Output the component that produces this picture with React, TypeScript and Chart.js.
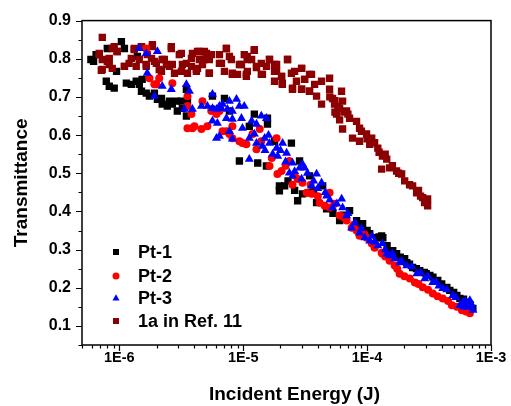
import React, { useEffect, useRef } from 'react';
import { Chart, registerables } from 'chart.js';

Chart.register(...registerables);

const FONT = '"Liberation Sans", Arial, Helvetica, sans-serif';

// Axis settings
const xMin = 5e-7;
const xMax = 1e-3;
const yMin = 0.05;
const yMax = 0.9;
const xTickValues = [1e-6, 1e-5, 1e-4, 1e-3];
const xTickLabels = ['1E-6', '1E-5', '1E-4', '1E-3'];
const yTickValues = [0.1, 0.2, 0.3, 0.4, 0.5, 0.6, 0.7, 0.8, 0.9];
const yMinorTicks = [0.05, 0.15, 0.25, 0.35, 0.45, 0.55, 0.65, 0.75, 0.85];
const xTitle = 'Incident Energy (J)';
const yTitle = 'Transmittance';

const seriesNames = ['Pt-1', 'Pt-2', 'Pt-3', '1a in Ref. 11'];
const seriesColors = ['#000000', '#ff0000', '#0000ff', '#8b0000'];

// Pt-1 (black squares): [energy (J), transmittance]
const pt1: [number, number][] = [
  [6.2e-7, 0.793], [6.5e-7, 0.811], [5.9e-7, 0.798], [8.0e-7, 0.827], [1.04e-6, 0.845], [1.10e-6, 0.827],
  [9.5e-7, 0.767], [7.85e-7, 0.741], [8.3e-7, 0.728], [9.1e-7, 0.723], [1.14e-6, 0.736], [1.25e-6, 0.733],
  [1.37e-6, 0.741], [1.45e-6, 0.733], [1.53e-6, 0.746], [1.51e-6, 0.715], [1.65e-6, 0.710], [1.75e-6, 0.702],
  [1.92e-6, 0.710], [2.03e-6, 0.694], [2.19e-6, 0.696], [2.22e-6, 0.681], [2.44e-6, 0.676], [2.54e-6, 0.689],
  [2.68e-6, 0.681], [2.89e-6, 0.689], [2.94e-6, 0.663], [3.17e-6, 0.689], [3.23e-6, 0.670], [3.48e-6, 0.650],
  [3.55e-6, 0.689], [3.48e-6, 0.720], [1.40e-6, 0.806], [5.54e-6, 0.668], [7.06e-6, 0.696], [9.32e-6, 0.532],
  [1.31e-5, 0.527], [1.23e-5, 0.655], [5.65e-6, 0.702], [1.57e-5, 0.644], [1.57e-5, 0.629], [2.45e-5, 0.579],
  [1.54e-5, 0.519], [1.96e-5, 0.467], [2.16e-5, 0.467], [1.96e-5, 0.454], [2.75e-5, 0.428], [3.01e-5, 0.446],
  [3.43e-5, 0.449], [3.91e-5, 0.423], [4.38e-5, 0.467], [4.71e-5, 0.407], [6.0e-5, 0.376], [7.22e-5, 0.402],
  [8.22e-5, 0.376], [9.2e-5, 0.368], [1.05e-4, 0.342], [1.20e-4, 0.331], [1.34e-4, 0.331], [1.52e-4, 0.297],
  [1.73e-4, 0.289], [2.01e-4, 0.276], [1.31e-4, 0.336], [1.61e-4, 0.297], [2.09e-4, 0.266], [2.33e-4, 0.253],
  [3.21e-4, 0.232], [3.72e-4, 0.219], [4.40e-4, 0.201], [5.30e-4, 0.180], [6.38e-4, 0.162], [7.14e-4, 0.146],
  [2.66e-4, 0.245], [2.9e-4, 0.240], [4.65e-4, 0.193], [5.61e-4, 0.172], [7.74e-6, 0.663], [1.12e-5, 0.623],
  [1.79e-5, 0.584], [2.85e-5, 0.532], [3.43e-5, 0.493],
  [3.7e-5, 0.455], [5.3e-5, 0.395], [6.5e-5, 0.390], [8.5e-5, 0.365], [1.0e-4, 0.350], [1.25e-4, 0.333],
  [1.45e-4, 0.310], [1.85e-4, 0.280], [2.2e-4, 0.262], [2.5e-4, 0.250], [3.0e-4, 0.237], [3.4e-4, 0.228],
  [4.0e-4, 0.210], [5.0e-4, 0.188], [6.0e-4, 0.170], [6.8e-4, 0.155], [2.3e-5, 0.480], [2.6e-5, 0.455],
];

// Pt-2 (red circles)
const pt2: [number, number][] = [
  [1.65e-6, 0.827], [1.92e-6, 0.733], [2.10e-6, 0.749], [2.68e-6, 0.736], [3.55e-6, 0.702], [3.55e-6, 0.676],
  [3.82e-6, 0.655], [3.55e-6, 0.618], [4.04e-6, 0.623], [4.60e-6, 0.616], [5.14e-6, 0.623], [4.69e-6, 0.689],
  [6.09e-6, 0.655], [6.43e-6, 0.663], [7.32e-6, 0.610], [7.74e-6, 0.603], [8.18e-6, 0.592], [8.18e-6, 0.623],
  [1.06e-5, 0.576], [9.32e-6, 0.584], [1.28e-5, 0.563], [1.19e-5, 0.603], [1.75e-6, 0.749], [1.99e-6, 0.733],
  [3.89e-6, 0.618], [5.54e-6, 0.663], [6.81e-6, 0.610], [9.86e-6, 0.579], [1.36e-5, 0.616], [1.40e-5, 0.584],
  [1.86e-5, 0.592], [1.63e-5, 0.519], [1.89e-5, 0.498], [2.04e-5, 0.506], [2.36e-5, 0.532], [2.75e-5, 0.485],
  [3.01e-5, 0.475], [3.25e-5, 0.449], [3.57e-5, 0.446], [4.14e-5, 0.423], [4.98e-5, 0.449], [5.46e-5, 0.420],
  [6.83e-5, 0.376], [7.51e-5, 0.357], [8.22e-5, 0.350], [9.9e-5, 0.331], [1.09e-4, 0.316], [1.31e-4, 0.292],
  [1.52e-4, 0.279], [1.33e-4, 0.289], [1.52e-4, 0.271], [1.83e-4, 0.237], [2.21e-4, 0.224], [2.81e-4, 0.201],
  [3.39e-4, 0.185], [4.08e-4, 0.172], [4.83e-4, 0.154], [5.82e-4, 0.141], [6.75e-4, 0.133], [2.43e-4, 0.214],
  [1.67e-4, 0.258], [8.69e-5, 0.336], [6.0e-5, 0.389], [4.54e-5, 0.415],
  [3.5e-5, 0.470], [4.0e-5, 0.440], [5.0e-5, 0.410], [6.5e-5, 0.385], [7.8e-5, 0.365], [9.5e-5, 0.340],
  [1.15e-4, 0.305], [1.4e-4, 0.282], [1.75e-4, 0.250], [2.0e-4, 0.230], [2.6e-4, 0.210], [3.1e-4, 0.195],
  [3.7e-4, 0.178], [4.5e-4, 0.165], [5.3e-4, 0.150], [6.3e-4, 0.138], [2.2e-5, 0.520], [2.6e-5, 0.495],
  [1.7e-5, 0.540], [2.5e-5, 0.470],
];

// Pt-3 (blue triangles)
const pt3: [number, number][] = [
  [1.45e-6, 0.827], [1.65e-6, 0.814], [2.03e-6, 0.819], [1.68e-6, 0.762], [2.22e-6, 0.728], [2.63e-6, 0.720],
  [1.92e-6, 0.702], [3.48e-6, 0.733], [3.68e-6, 0.715], [3.35e-6, 0.668], [3.89e-6, 0.668], [5.65e-6, 0.707],
  [5.65e-6, 0.670], [6.43e-6, 0.676], [7.74e-6, 0.689], [8.18e-6, 0.663], [8.83e-6, 0.694], [1.02e-5, 0.676],
  [6.19e-6, 0.631], [6.43e-6, 0.597], [8.18e-6, 0.642], [9.68e-6, 0.644], [9.86e-6, 0.618], [1.12e-5, 0.592],
  [1.12e-5, 0.537], [1.28e-5, 0.629], [7.74e-6, 0.610], [4.60e-6, 0.676], [5.14e-6, 0.676], [6.81e-6, 0.681],
  [7.46e-6, 0.668], [9.32e-6, 0.676], [1.40e-5, 0.650], [1.54e-5, 0.644], [7.32e-6, 0.644], [5.65e-6, 0.637],
  [6.09e-6, 0.668], [6.68e-6, 0.670], [1.17e-5, 0.637], [6.09e-6, 0.592], [8.18e-6, 0.590], [1.23e-5, 0.603],
  [1.49e-5, 0.592], [1.63e-5, 0.579], [1.86e-5, 0.566], [2.24e-5, 0.553], [2.50e-5, 0.527], [2.85e-5, 0.514],
  [3.13e-5, 0.514], [1.73e-5, 0.550], [2.08e-5, 0.579], [2.36e-5, 0.501], [1.28e-5, 0.579], [1.43e-5, 0.571],
  [3.01e-5, 0.524], [2.50e-5, 0.493], [2.96e-5, 0.485], [3.91e-5, 0.498], [4.29e-5, 0.475], [5.27e-5, 0.410],
  [6.23e-5, 0.433], [6.34e-5, 0.410], [7.51e-5, 0.357], [8.69e-5, 0.344], [1.05e-4, 0.323], [1.22e-4, 0.310],
  [1.44e-4, 0.289], [1.33e-4, 0.316], [1.52e-4, 0.284], [2.09e-4, 0.258], [2.52e-4, 0.237], [3.39e-4, 0.214],
  [4.08e-4, 0.198], [4.92e-4, 0.180], [5.93e-4, 0.162], [6.50e-4, 0.149], [7.14e-4, 0.141], [6.75e-4, 0.167],
  [5.61e-4, 0.154], [2.92e-4, 0.224], [1.83e-4, 0.266], [1.67e-4, 0.276], [9.57e-5, 0.331], [6.83e-5, 0.389],
  [4.71e-5, 0.441], [3.56e-5, 0.467],
  [3.3e-5, 0.500], [3.7e-5, 0.480], [4.0e-5, 0.460], [4.6e-5, 0.450], [5.0e-5, 0.430], [5.7e-5, 0.420],
  [7.0e-5, 0.395], [8.0e-5, 0.370], [9.0e-5, 0.355], [1.1e-4, 0.335], [1.15e-4, 0.320], [1.4e-4, 0.300],
  [1.6e-4, 0.290], [1.9e-4, 0.270], [2.3e-4, 0.255], [2.7e-4, 0.240], [3.1e-4, 0.230], [3.6e-4, 0.215],
  [3.8e-4, 0.205], [4.4e-4, 0.195], [5.2e-4, 0.175], [6.2e-4, 0.165], [7.0e-4, 0.155], [6.0e-4, 0.150],
  [1.6e-5, 0.600], [1.9e-5, 0.545], [2.2e-5, 0.530], [2.6e-5, 0.505], [2.0e-5, 0.560], [1.5e-5, 0.560],
];

// 1a in Ref. 11 (dark red squares)
const ref11: [number, number][] = [
  [7.29e-7, 0.856], [6.89e-7, 0.811], [7.16e-7, 0.770], [8.0e-7, 0.793], [8.77e-7, 0.827], [9.6e-7, 0.819],
  [8.3e-7, 0.785], [1.10e-6, 0.780], [1.20e-6, 0.788], [1.32e-6, 0.827], [1.37e-6, 0.780], [1.51e-6, 0.832],
  [1.65e-6, 0.785], [1.68e-6, 0.811], [1.85e-6, 0.832], [1.92e-6, 0.793], [2.10e-6, 0.772], [2.22e-6, 0.798],
  [2.40e-6, 0.785], [2.63e-6, 0.827], [2.68e-6, 0.785], [3.05e-6, 0.811], [3.17e-6, 0.767], [3.48e-6, 0.788],
  [3.82e-6, 0.780], [3.89e-6, 0.814], [4.19e-6, 0.767], [4.43e-6, 0.798], [4.86e-6, 0.819], [5.33e-6, 0.762],
  [5.54e-6, 0.811], [6.43e-6, 0.788], [7.32e-6, 0.827], [7.74e-6, 0.806], [8.18e-6, 0.762], [9.32e-6, 0.785],
  [1.06e-5, 0.759], [1.08e-5, 0.806], [1.23e-5, 0.822], [1.17e-5, 0.798], [1.28e-5, 0.777], [1.40e-5, 0.788],
  [1.43e-5, 0.759], [1.63e-5, 0.798], [1.79e-5, 0.767], [1.86e-5, 0.785], [2.07e-5, 0.733], [2.04e-5, 0.754],
  [2.28e-5, 0.798], [2.45e-5, 0.762], [2.50e-5, 0.720], [2.69e-5, 0.741], [2.96e-5, 0.775], [2.96e-5, 0.720],
  [3.13e-5, 0.746], [3.43e-5, 0.715], [3.56e-5, 0.759], [3.77e-5, 0.733], [3.91e-5, 0.702], [4.29e-5, 0.741],
  [4.29e-5, 0.681], [4.98e-5, 0.749], [4.98e-5, 0.720], [5.26e-5, 0.696], [5.46e-5, 0.681], [6.0e-5, 0.670],
  [6.22e-5, 0.715], [6.34e-5, 0.689], [5.67e-5, 0.655], [6.83e-5, 0.663], [7.22e-5, 0.644], [6.34e-5, 0.616],
  [8.22e-5, 0.636], [8.69e-5, 0.618], [7.63e-5, 0.592], [8.69e-5, 0.584], [9.9e-5, 0.603], [1.05e-4, 0.576],
  [1.09e-4, 0.592], [1.22e-4, 0.566], [1.31e-4, 0.511], [1.33e-4, 0.545], [1.44e-4, 0.537], [1.52e-4, 0.514],
  [1.73e-4, 0.506], [1.90e-4, 0.498], [2.01e-4, 0.480], [2.33e-4, 0.467], [2.51e-4, 0.449], [2.81e-4, 0.436],
  [3.08e-4, 0.433], [3.08e-4, 0.415], [2.91e-4, 0.423], [5.0e-5, 0.700], [5.5e-5, 0.690], [5.8e-5, 0.675],
  [6.5e-5, 0.660], [7.0e-5, 0.655], [6.0e-5, 0.640], [5.5e-5, 0.660], [9.0e-5, 0.610], [1.0e-4, 0.590],
  [1.15e-4, 0.580], [1.25e-4, 0.555], [1.4e-4, 0.550], [1.6e-4, 0.520], [1.8e-4, 0.500], [2.2e-4, 0.470],
  [2.6e-4, 0.455], [2.7e-4, 0.440], [3.0e-4, 0.425],
  [6.89e-7, 0.814], [7.29e-7, 0.798], [8.3e-7, 0.801], [9.1e-7, 0.832], [9.6e-7, 0.819], [8.77e-7, 0.775],
  [7.29e-7, 0.772], [1.10e-6, 0.780], [1.25e-6, 0.801], [1.32e-6, 0.824], [1.51e-6, 0.832], [1.45e-6, 0.798],
  [1.65e-6, 0.780], [1.82e-6, 0.801], [1.85e-6, 0.837], [1.99e-6, 0.788], [2.19e-6, 0.767], [2.31e-6, 0.798],
  [2.54e-6, 0.780], [2.63e-6, 0.832], [2.79e-6, 0.762], [3.17e-6, 0.814], [3.23e-6, 0.785], [3.55e-6, 0.762],
  [3.82e-6, 0.801], [4.19e-6, 0.772], [4.43e-6, 0.819], [4.69e-6, 0.785],
  [4.28e-6, 0.819], [5.05e-6, 0.814], [5.33e-6, 0.798], [4.86e-6, 0.798], [4.28e-6, 0.775], [5.33e-6, 0.762],
  [6.43e-6, 0.811], [6.68e-6, 0.788], [7.32e-6, 0.827], [8.03e-6, 0.798], [7.06e-6, 0.767], [8.18e-6, 0.759],
  [9.0e-6, 0.759], [1.02e-5, 0.811], [1.08e-5, 0.798], [9.68e-6, 0.785], [1.08e-5, 0.767], [1.06e-5, 0.754],
  [1.23e-5, 0.824], [1.28e-5, 0.780], [1.40e-5, 0.759], [1.63e-5, 0.798], [1.54e-5, 0.780], [1.79e-5, 0.785],
  [1.86e-5, 0.767], [2.04e-5, 0.754], [1.79e-5, 0.741], [2.28e-5, 0.798], [2.07e-5, 0.736], [2.60e-5, 0.767],
  [2.50e-5, 0.723], [2.96e-5, 0.775], [3.13e-5, 0.746], [2.96e-5, 0.720], [3.43e-5, 0.759], [3.43e-5, 0.715],
];

const toPoints = (arr: [number, number][]) => arr.map(([x, y]) => ({ x, y }));

function drawSymbol(ctx: CanvasRenderingContext2D, kind: string, cx: number, cy: number, s: number) {
  ctx.beginPath();
  if (kind === 'rect') {
    ctx.rect(cx - s / 2, cy - s / 2, s, s);
  } else if (kind === 'circle') {
    ctx.arc(cx, cy, s / 2, 0, Math.PI * 2);
  } else {
    const h = s * 0.87;
    ctx.moveTo(cx, cy - h * 0.6);
    ctx.lineTo(cx + s / 2, cy + h * 0.4);
    ctx.lineTo(cx - s / 2, cy + h * 0.4);
    ctx.closePath();
  }
  ctx.fill();
}

const legendKinds = ['rect', 'circle', 'triangle', 'rect'];

const decorPlugin = {
  id: 'decor',
  afterDraw(chart: any) {
    const { ctx, chartArea: a, scales } = chart;
    const xs = scales.x;
    const ys = scales.y;
    ctx.save();
    ctx.strokeStyle = '#000';
    ctx.lineWidth = 1.5;
    ctx.strokeRect(a.left, a.top, a.right - a.left, a.bottom - a.top);
    ctx.lineWidth = 1.2;
    ctx.beginPath();
    for (const v of yTickValues) {
      const p = Math.round(ys.getPixelForValue(v)) + 0.5;
      ctx.moveTo(a.left - 6, p);
      ctx.lineTo(a.left, p);
    }
    for (const v of yMinorTicks) {
      const p = Math.round(ys.getPixelForValue(v)) + 0.5;
      ctx.moveTo(a.left - 3.5, p);
      ctx.lineTo(a.left, p);
    }
    for (let e = -7; e <= -4; e++) {
      for (let m = 1; m <= 9; m++) {
        const v = m * Math.pow(10, e);
        if (v < xMin * 0.999 || v > xMax * 1.001) continue;
        const p = Math.round(xs.getPixelForValue(v)) + 0.5;
        const len = m === 1 ? 6 : 3.5;
        ctx.moveTo(p, a.bottom);
        ctx.lineTo(p, a.bottom + len);
      }
    }
    const pEnd = Math.round(xs.getPixelForValue(xMax)) + 0.5;
    ctx.moveTo(pEnd, a.bottom);
    ctx.lineTo(pEnd, a.bottom + 6);
    ctx.stroke();

    // x-axis title
    ctx.fillStyle = '#000';
    ctx.font = `bold 19px ${FONT}`;
    ctx.textAlign = 'center';
    ctx.textBaseline = 'middle';
    ctx.fillText(xTitle, (a.left + a.right) / 2 + 8, 395);

    // legend
    const lx = 116;
    const rows = [252, 276, 298, 321];
    ctx.font = `bold 18px ${FONT}`;
    ctx.textBaseline = 'middle';
    ctx.textAlign = 'left';
    seriesNames.forEach((name, i) => {
      ctx.fillStyle = seriesColors[i];
      drawSymbol(ctx, legendKinds[i], lx, rows[i], legendKinds[i] === 'rect' ? 6 : 7);
      ctx.fillStyle = '#000';
      ctx.fillText(name, 138, rows[i] + 1);
    });
    ctx.restore();
  },
};

export default function App() {
  const ref = useRef<HTMLCanvasElement | null>(null);
  useEffect(() => {
    if (!ref.current) return;
    const chart = new Chart(ref.current, {
      type: 'scatter',
      data: {
        datasets: [
          {
            label: seriesNames[2], data: toPoints(pt3), pointStyle: 'triangle', pointRadius: 5.2,
            backgroundColor: seriesColors[2], borderColor: seriesColors[2], borderWidth: 0,
          },
          {
            label: seriesNames[1], data: toPoints(pt2), pointStyle: 'circle', pointRadius: 4,
            backgroundColor: seriesColors[1], borderColor: seriesColors[1], borderWidth: 0,
          },
          {
            label: seriesNames[3], data: toPoints(ref11), pointStyle: 'rect', pointRadius: 5.2,
            backgroundColor: seriesColors[3], borderColor: seriesColors[3], borderWidth: 0,
          },
          {
            label: seriesNames[0], data: toPoints(pt1), pointStyle: 'rect', pointRadius: 5.2,
            backgroundColor: seriesColors[0], borderColor: seriesColors[0], borderWidth: 0,
          },
        ],
      },
      options: {
        animation: false,
        responsive: false,
        devicePixelRatio: 1,
        events: [],
        layout: { padding: { top: 19, right: 20, left: 0, bottom: 0 } },
        plugins: { legend: { display: false }, tooltip: { enabled: false } },
        scales: {
          x: {
            type: 'logarithmic',
            min: xMin,
            max: xMax,
            grid: { display: false, drawTicks: false },
            border: { display: false },
            afterBuildTicks: (s: any) => { s.ticks = xTickValues.map((v) => ({ value: v })); },
            afterFit: (s: any) => { s.height = 61; },
            ticks: {
              autoSkip: false,
              maxRotation: 0,
              padding: 4,
              color: '#000',
              font: { family: FONT, size: 14.5, weight: 'bold' },
              callback: (v: any) => {
                const i = xTickValues.findIndex((t) => Math.abs(t - Number(v)) / t < 1e-6);
                return i >= 0 ? xTickLabels[i] : '';
              },
            },
          },
          y: {
            type: 'linear',
            min: yMin,
            max: yMax,
            grid: { display: false, drawTicks: false },
            border: { display: false },
            afterBuildTicks: (s: any) => { s.ticks = yTickValues.map((v) => ({ value: v })); },
            afterFit: (s: any) => { s.width = 82; },
            ticks: {
              autoSkip: false,
              padding: 11,
              color: '#000',
              font: { family: FONT, size: 16, weight: 'bold' },
              callback: (v: any) => Number(v).toFixed(1),
            },
            title: {
              display: true,
              text: yTitle,
              color: '#000',
              font: { family: FONT, size: 19, weight: 'bold' },
              padding: { top: 10, bottom: 0 },
            },
          },
        },
      },
      plugins: [decorPlugin],
    } as any);
    return () => chart.destroy();
  }, []);
  return (
    <div style={{ position: 'absolute', left: 0, top: 0, width: 511, height: 406, background: '#fff' }}>
      <canvas ref={ref} width={511} height={406} style={{ width: 511, height: 406, display: 'block' }} />
    </div>
  );
}
